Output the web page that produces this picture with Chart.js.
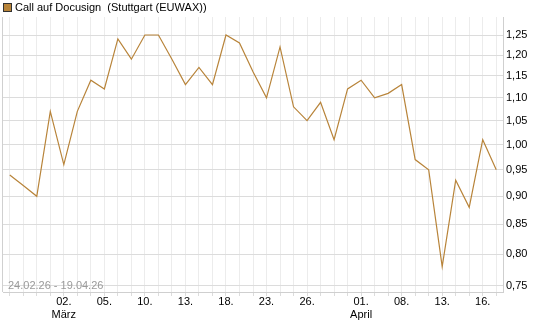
<!DOCTYPE html>
<html>
<head>
<meta charset="utf-8">
<script src="https://cdn.jsdelivr.net/npm/chart.js@4.4.1/dist/chart.umd.min.js"></script>
<style>
    html, body { margin: 0; padding: 0; background: #fff; }
</style>
</head>
<body>
<canvas id="chart" width="545" height="327"></canvas>
<script>
// trading days 24.02.26 - 17.04.26
const dates = [
    '24.02.', '25.02.', '26.02.', '27.02.',
    '02.03.', '03.03.', '04.03.', '05.03.', '06.03.',
    '09.03.', '10.03.', '11.03.', '12.03.', '13.03.',
    '16.03.', '17.03.', '18.03.', '19.03.', '20.03.',
    '23.03.', '24.03.', '25.03.', '26.03.', '27.03.',
    '30.03.', '31.03.', '01.04.', '02.04.',
    '07.04.', '08.04.', '09.04.', '10.04.',
    '13.04.', '14.04.', '15.04.', '16.04.', '17.04.'
];
const prices = [
    0.94, 0.92, 0.90, 1.07,
    0.96, 1.07, 1.14, 1.12, 1.24,
    1.19, 1.25, 1.25, 1.19, 1.13,
    1.17, 1.13, 1.25, 1.23, 1.16,
    1.10, 1.22, 1.08, 1.05, 1.09,
    1.01, 1.12, 1.14, 1.10,
    1.11, 1.13, 0.97, 0.95,
    0.78, 0.93, 0.88, 1.01, 0.95
];
// shown tick labels (index -> day text, month text)
const tickIndex = [4, 7, 10, 13, 16, 19, 22, 26, 29, 32, 35];
const tickDay   = ['02.', '05.', '10.', '13.', '18.', '23.', '26.', '01.', '08.', '13.', '16.'];
const tickMonth = ['März', '', '', '', '', '', '', 'April', '', '', ''];
const yTicks = [0.75, 0.80, 0.85, 0.90, 0.95, 1.00, 1.05, 1.10, 1.15, 1.20, 1.25];

const seriesName = 'Call auf Docusign  (Stuttgart (EUWAX))';
const rangeText = '24.02.26 - 19.04.26';
const lineColor = '#b8843a';
const fontFamily = '"Liberation Sans", Arial, sans-serif';

const extras = {
    id: 'extras',
    afterDraw(chart) {
        const ctx = chart.ctx;
        const area = chart.chartArea;
        ctx.save();
        // left border of plot
        ctx.strokeStyle = '#d0d0d0';
        ctx.lineWidth = 1;
        ctx.beginPath();
        ctx.moveTo(Math.round(area.left) - 0.5, area.top);
        ctx.lineTo(Math.round(area.left) - 0.5, area.bottom);
        ctx.stroke();
        // legend
        ctx.fillStyle = lineColor;
        ctx.fillRect(3.5, 3.5, 8, 8);
        ctx.strokeStyle = '#333';
        ctx.strokeRect(3.5, 3.5, 8, 8);
        ctx.fillStyle = '#000';
        ctx.font = '11px ' + fontFamily;
        ctx.textBaseline = 'middle';
        ctx.fillText(seriesName, 15, 8);
        // date range
        ctx.fillStyle = '#9a9a9a';
        ctx.fillText(rangeText, area.left + 5, area.bottom - 6);
        ctx.restore();
    }
};

new Chart(document.getElementById('chart'), {
    type: 'line',
    data: {
        labels: dates,
        datasets: [{
            label: seriesName,
            data: prices,
            borderColor: lineColor,
            borderWidth: 1.2,
            pointRadius: 0,
            tension: 0,
            fill: false
        }]
    },
    options: {
        responsive: false,
        animation: false,
        layout: { padding: { left: 3, top: 17, right: 0, bottom: 0 } },
        plugins: { legend: { display: false }, tooltip: { enabled: false } },
        scales: {
            x: {
                offset: true,
                grid: { offset: false, color: '#ececec', tickColor: '#dcdcdc', tickLength: 4 },
                border: { color: '#cfcfcf' },
                ticks: {
                    autoSkip: false,
                    maxRotation: 0,
                    padding: -1,
                    color: '#000',
                    font: { family: fontFamily, size: 11 },
                    callback: (v, i) => {
                        const k = tickIndex.indexOf(i);
                        if (k < 0) return '';
                        return tickMonth[k] ? [tickDay[k], tickMonth[k]] : tickDay[k];
                    }
                },
                afterFit: s => { s.height = 35; }
            },
            y: {
                type: 'logarithmic',
                position: 'right',
                min: 0.7407,
                max: 1.2967,
                grid: { color: '#dcdcdc', drawTicks: false },
                border: { color: '#cfcfcf' },
                ticks: {
                    padding: 3,
                    color: '#000',
                    font: { family: fontFamily, size: 11 },
                    callback: v => v.toFixed(2).replace('.', ',')
                },
                afterBuildTicks: s => { s.ticks = yTicks.map(v => ({ value: v })); },
                afterFit: s => { s.width = 42; }
            }
        }
    },
    plugins: [extras]
});
</script>
</body>
</html>
